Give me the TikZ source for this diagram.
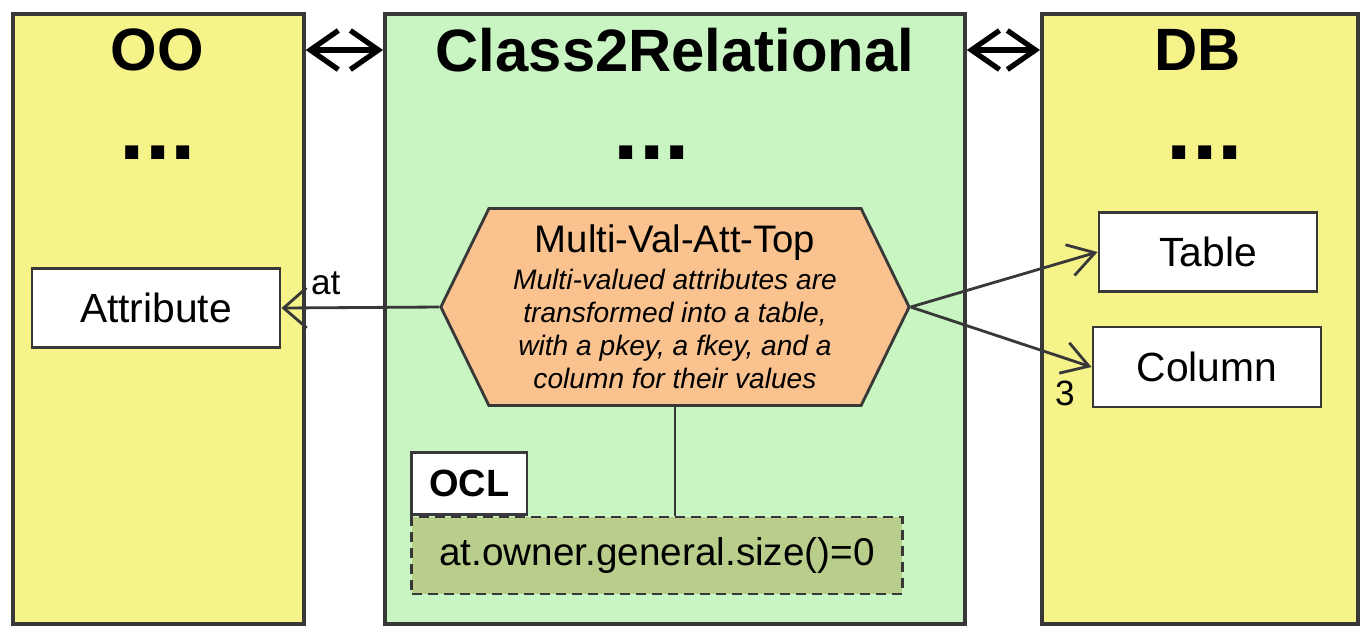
\documentclass[tikz,border=0pt]{standalone}
\usepackage{fontspec}
\setmainfont{Liberation Sans}
\usepackage{tikz}
\usetikzlibrary{arrows.meta}
\usetikzlibrary{shapes.symbols}

\definecolor{ooyellow}{HTML}{F5F38A}
\definecolor{trgreen}{HTML}{C8F5C2}
\definecolor{ruleorange}{HTML}{F9C28E}
\definecolor{oclolive}{HTML}{B8CE8A}
\definecolor{edge}{HTML}{383838}

\begin{document}
\begin{tikzpicture}[x=0.01cm, y=-0.01cm,
	panel/.style={draw=edge, line width=1pt, fill=#1, anchor=north west},
	cls/.style={draw=edge, line width=0.8pt, fill=white, font=\fontsize{11.6}{14}\selectfont},
	title/.style={font=\bfseries\fontsize{17}{20}\selectfont},
	dots/.style={font=\bfseries\fontsize{26}{26}\selectfont},
	link/.style={line width=0.8pt, draw=edge, -{Straight Barb[length=2.6mm,width=3.2mm]}},
	dual/.style={line width=1.5pt, {Straight Barb[length=2.8mm,width=3.9mm]}-{Straight Barb[length=2.8mm,width=3.9mm]}}]
		\useasboundingbox (0,0) rectangle (1372,632);
		
		% the three domains
		\node[panel=ooyellow, minimum width=2.91cm, minimum height=6.1cm] (oo) at (11,12) {};
		\node[panel=trgreen, minimum width=5.8cm, minimum height=6.1cm] (c2r) at (383,12) {};
		\node[panel=ooyellow, minimum width=3.16cm, minimum height=6.1cm] (db) at (1040,12) {};
		
		\node[title] (ootitle) at (157,50) {OO};
		\node[title] (c2rtitle) at (675,50) {Class2Relational};
		\node[title] (dbtitle) at (1198,50) {DB};
		
		\node[dots] (oodots) at (158,153) {...};
		\node[dots] (c2rdots) at (652,153) {...};
		\node[dots] (dbdots) at (1205,153) {...};
		
		\draw[dual] (oo.east |- ootitle) -- (c2r.west |- ootitle);
		\draw[dual] (c2r.east |- dbtitle) -- (db.west |- dbtitle);
		
		% classes
		\node[cls, minimum width=2.48cm, minimum height=0.79cm] (attr) at (156,308) {Attribute};
		\node[cls, minimum width=2.18cm, minimum height=0.79cm] (table) at (1208,252) {Table};
		\node[cls, minimum width=2.28cm, minimum height=0.8cm] (column) at (1207,367) {Column};
		
		% the rule
		\node[signal, signal to=west and east, signal pointer angle=128,
			draw=edge, line width=0.8pt, fill=ruleorange, inner sep=0pt,
			minimum width=4.68cm, minimum height=1.97cm, align=center,
			font=\itshape\fontsize{8}{9.4}\selectfont] (rule) at (675,307)
			{{\upshape\fontsize{10.9}{13}\selectfont Multi-Val-Att-Top}\\[1pt]
			Multi-valued attributes are\\ transformed into a table,\\
			with a pkey, a fkey, and a\\ column for their values};
		
		\draw[link, -{Straight Barb[length=2.3mm,width=4mm]}] (rule.west) -- node[pos=0.72, above, font=\fontsize{10}{12}\selectfont] {at} (attr.east);
		\draw[link] (rule.east) -- (table.west);
		\draw[link] (rule.east) -- (column.west);
		\node[font=\fontsize{10}{12}\selectfont] (three) at (1065,393) {3};
		
		% OCL condition
		\node[draw=edge, line width=0.8pt, dash pattern=on 1mm off 0.6mm, fill=oclolive,
			minimum width=4.9cm, minimum height=0.77cm,
			font=\fontsize{11}{13}\selectfont] (oclbody) at (657,555.5) {at.owner.general.size()=0};
		\node[draw=edge, line width=0.8pt, fill=white, anchor=south west,
			minimum width=1.15cm, minimum height=0.62cm,
			font=\bfseries\fontsize{10.8}{13}\selectfont] (ocltab) at (oclbody.north west) {OCL};
		\draw[line width=0.7pt, draw=edge] (rule.south) -- (rule.south |- oclbody.north);
		
		\end{tikzpicture}
\end{document}
